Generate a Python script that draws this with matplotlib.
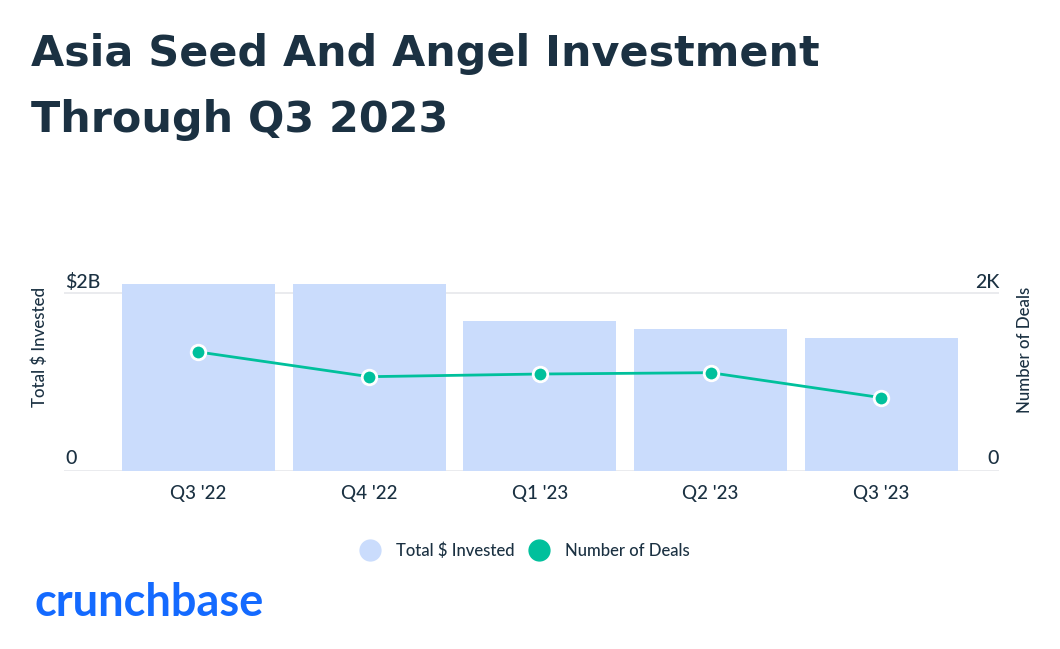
import matplotlib
matplotlib.use('Agg')
import matplotlib.pyplot as plt
from matplotlib.lines import Line2D
import matplotlib.transforms as mtransforms

quarters = ["Q3 '22", "Q4 '22", "Q1 '23", "Q2 '23", "Q3 '23"]
invested_b = [2.10, 2.10, 1.69, 1.60, 1.49]   # $B
deals = [1336, 1058, 1088, 1103, 822]

navy = '#1b3142'
bar_col = '#cadcfc'
teal = '#00c09c'
grid_col = '#e6e8eb'

plt.rcParams['font.family'] = ['Lato', 'DejaVu Sans']

W, H = 1060, 649
fig = plt.figure(figsize=(W / 100, H / 100), dpi=100)

def fx(px):
    return px / W

def fy(py):
    return 1 - py / H

# axes spans x 64..999 px, y 260..470.7 px
ax = fig.add_axes([fx(64), fy(470.7), fx(999) - fx(64), fy(260) - fy(470.7)])
x = list(range(len(quarters)))
ax.bar(x, invested_b, width=0.896, color=bar_col, zorder=2)
ax.set_xlim(-0.788, 4.69)
ax.set_ylim(0, 2.371)
ax.set_yticks([0, 2])
ax.yaxis.grid(True, color=grid_col, linewidth=1.2, zorder=1)
ax.tick_params(axis='y', length=0, labelleft=False)
ax.tick_params(axis='x', length=0, labelsize=13.5, colors=navy, pad=10)
ax.set_xticks(x)
ax.set_xticklabels(quarters, fontweight='medium')
for s in ax.spines.values():
    s.set_visible(False)

ax2 = ax.twinx()
ax2.plot(x, deals, color=teal, linewidth=2, marker='o', markersize=10.5,
         markerfacecolor=teal, markeredgecolor='white', markeredgewidth=2, zorder=3)
ax2.set_ylim(0, 2371)
ax2.set_yticks([])
for s in ax2.spines.values():
    s.set_visible(False)

# value labels above gridlines
tl = mtransforms.blended_transform_factory(fig.transFigure, ax.transData)
tr = mtransforms.blended_transform_factory(fig.transFigure, ax2.transData)
lab = dict(fontsize=14, color=navy, va='baseline', fontweight='medium')
ax.text(fx(65), 2.06, '$2B', transform=tl, ha='left', **lab)
ax.text(fx(65), 0.08, '0', transform=tl, ha='left', **lab)
ax2.text(fx(999), 2060, '2K', transform=tr, ha='right', **lab)
ax2.text(fx(999), 80, '0', transform=tr, ha='right', **lab)

fig.text(fx(40), fy(347), 'Total $ Invested', rotation=90, fontsize=12.2, color=navy,
         ha='center', va='center', fontweight='medium')
fig.text(fx(1025), fy(350), 'Number of Deals', rotation=90, fontsize=12.2, color=navy,
         ha='center', va='center', fontweight='medium')

tkw = dict(fontsize=30.9, fontweight='bold', color=navy, ha='left', va='baseline',
           family=['DejaVu Sans'])
fig.text(fx(31), fy(66), 'Asia Seed And Angel Investment', **tkw)
fig.text(fx(31), fy(132), 'Through Q3 2023', **tkw)

handles = [Line2D([], [], linestyle='none', marker='o', markersize=15, color=bar_col),
           Line2D([], [], linestyle='none', marker='o', markersize=15, color=teal)]
fig.legend(handles, ['Total $ Invested', 'Number of Deals'], loc='center',
           bbox_to_anchor=(fx(525), fy(551)), ncol=2, frameon=False,
           prop={'size': 12, 'weight': 'medium'}, labelcolor=navy,
           handletextpad=0.95, columnspacing=0.9, handlelength=1.2)

fig.text(fx(34), fy(616), 'crunchbase', fontsize=32.5, fontweight='bold',
         color='#146aff', ha='left', va='baseline')

fig.savefig('out.png', dpi=100)
